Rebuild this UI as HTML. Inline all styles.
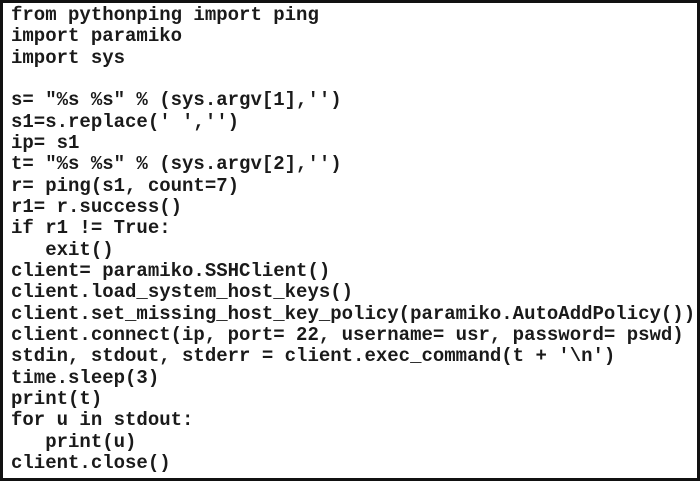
<!DOCTYPE html>
<html><head><style>
html,body{margin:0;padding:0;background:#fff;}
.box{position:absolute;left:0;top:0;width:694px;height:475px;border:3px solid #111;background:#fff;}
pre{position:absolute;left:11px;top:5px;margin:0;font-family:"Liberation Mono","Courier New",monospace;font-weight:bold;font-size:19px;line-height:21.33px;color:#1a1a1a;}
</style></head><body>
<div class="box"></div>
<pre>from pythonping import ping
import paramiko
import sys

s= "%s %s" % (sys.argv[1],'')
s1=s.replace(' ','')
ip= s1
t= "%s %s" % (sys.argv[2],'')
r= ping(s1, count=7)
r1= r.success()
if r1 != True:
   exit()
client= paramiko.SSHClient()
client.load_system_host_keys()
client.set_missing_host_key_policy(paramiko.AutoAddPolicy())
client.connect(ip, port= 22, username= usr, password= pswd)
stdin, stdout, stderr = client.exec_command(t + '\n')
time.sleep(3)
print(t)
for u in stdout:
   print(u)
client.close()</pre>
</body></html>
